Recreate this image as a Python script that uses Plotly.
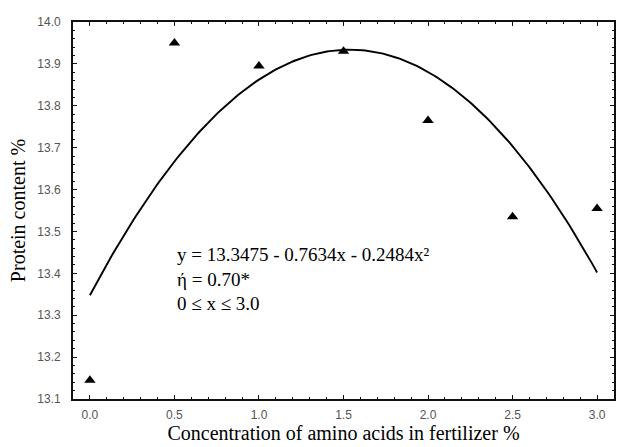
import numpy as np
import plotly.graph_objects as go

# Observed data
conc = [0.0, 0.5, 1.0, 1.5, 2.0, 2.5, 3.0]
protein = [13.145, 13.95, 13.895, 13.93, 13.765, 13.535, 13.555]

# Fitted quadratic coefficients (from equation in chart)
b0, b1, b2 = 13.3475, 0.7634, -0.2484

x_ticks = [0.0, 0.5, 1.0, 1.5, 2.0, 2.5, 3.0]
y_ticks = [13.1, 13.2, 13.3, 13.4, 13.5, 13.6, 13.7, 13.8, 13.9, 14.0]

xf = np.linspace(0, 3, 200)
yf = b0 + b1 * xf + b2 * xf ** 2

fig = go.Figure()
fig.add_trace(go.Scatter(x=xf, y=yf, mode="lines",
                         line=dict(color="black", width=1.9), showlegend=False))
fig.add_trace(go.Scatter(x=conc, y=protein, mode="markers",
                         marker=dict(symbol="triangle-up", size=10, color="black"),
                         showlegend=False))

serif = "Liberation Serif, Times New Roman, serif"
sans = "Liberation Sans, Arial, sans-serif"

fig.add_annotation(
    x=0.0, y=1.0, xref="paper", yref="paper", showarrow=False,
    text="y = 13.3475 - 0.7634x - 0.2484x²<br>ή = 0.70*<br>0 ≤ x ≤ 3.0",
    align="left", xanchor="left", yanchor="top",
    font=dict(family=serif, size=19, color="black"),
    xshift=102, yshift=-220,
)

axis_common = dict(
    showline=True, linecolor="#111111", linewidth=1.8, mirror="allticks",
    ticks="inside", ticklen=4, tickcolor="#111111", tickwidth=1.2,
    showgrid=False, zeroline=False,
    tickfont=dict(family=sans, size=12, color="#555555"),
)

fig.update_layout(
    width=618, height=447,
    margin=dict(l=73, r=2, t=22, b=48),
    plot_bgcolor="white", paper_bgcolor="white",
    xaxis=dict(range=[-0.1, 3.1], tickvals=x_ticks,
               ticktext=[f"{v:.1f}" for v in x_ticks],
               ticklabelstandoff=4,
               minor=dict(ticks="inside", ticklen=2, dtick=0.1, tickcolor="#111111"),
               title=dict(text="Concentration of amino acids in fertilizer %",
                          font=dict(family=serif, size=20, color="black"), standoff=4),
               **axis_common),
    yaxis=dict(range=[13.1, 14.0], tickvals=y_ticks,
               ticktext=[f"{v:.1f}" for v in y_ticks],
               ticklabelstandoff=8,
               minor=dict(ticks="inside", ticklen=2, dtick=0.02, tickcolor="#111111"),
               title=dict(text="Protein content %",
                          font=dict(family=serif, size=20, color="black"), standoff=6),
               **axis_common),
)

fig.write_html("out.html")
